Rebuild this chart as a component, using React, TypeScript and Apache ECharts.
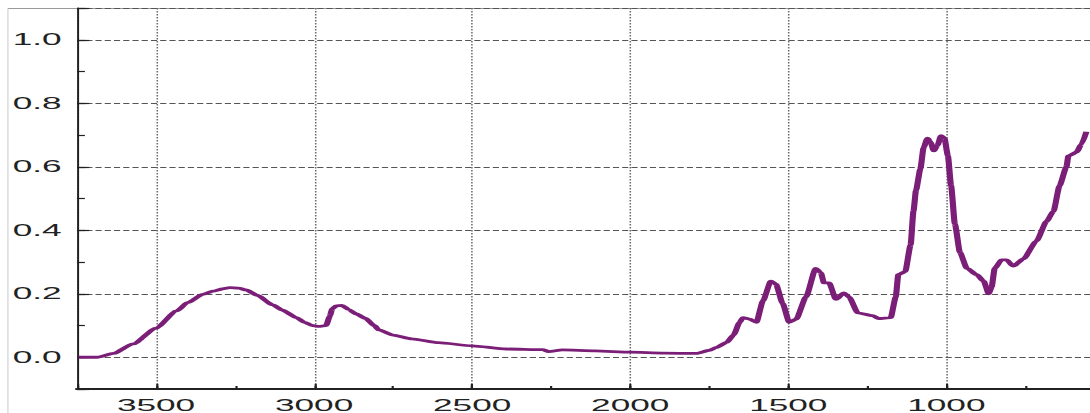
import React, { useEffect, useRef } from "react";
import * as echarts from "echarts";

// IR spectrum: wavenumber (cm-1) and absorbance
const wavenumbers = [
  3745, 3686, 3635, 3572, 3500, 3435, 3400, 3352, 3320, 3290, 3267, 3240, 3215, 3180, 3131,
  3100, 3056, 3030, 3006, 2985, 2962, 2950, 2943, 2930, 2912, 2890, 2868, 2837, 2810, 2795,
  2750, 2691, 2607, 2500, 2393, 2277, 2258, 2215, 2110, 2000,
  1894, 1790, 1749, 1727, 1695, 1673, 1654, 1643, 1622, 1601, 1580, 1555, 1539, 1518,
  1497, 1475, 1444, 1413, 1397, 1387, 1371, 1349, 1324, 1308, 1280, 1233, 1214, 1176,
  1160, 1152, 1130, 1113, 1104, 1096, 1082, 1072, 1060, 1050, 1040, 1028, 1017, 1006,
  995, 985, 973, 957, 935, 904, 882, 866, 857, 847, 825, 810, 788, 756, 715, 683, 661,
  642, 620, 614, 588, 573, 557,
];
const absorbance = [
  0.0, 0.0, 0.012, 0.042, 0.092, 0.146, 0.172, 0.198, 0.208, 0.215, 0.219, 0.218, 0.212, 0.195, 0.165,
  0.148, 0.125, 0.11, 0.1, 0.097, 0.1, 0.13, 0.152, 0.162, 0.163, 0.15, 0.137, 0.122, 0.1, 0.086,
  0.07, 0.058, 0.046, 0.036, 0.026, 0.024, 0.018, 0.023, 0.02, 0.016,
  0.013, 0.012, 0.022, 0.031, 0.047, 0.07, 0.11, 0.125, 0.12, 0.11, 0.178, 0.24, 0.23, 0.17,
  0.11, 0.12, 0.19, 0.28, 0.266, 0.234, 0.234, 0.182, 0.203, 0.19, 0.14, 0.131, 0.122, 0.125,
  0.19, 0.26, 0.27, 0.354, 0.46, 0.526, 0.594, 0.66, 0.69, 0.678, 0.65, 0.667, 0.698, 0.69,
  0.634, 0.54, 0.42, 0.33, 0.28, 0.26, 0.24, 0.2, 0.22, 0.28, 0.307, 0.307, 0.287, 0.31, 0.366, 0.428, 0.46,
  0.54, 0.6, 0.634, 0.646, 0.67, 0.71,
];
const xTickLabels = [1000, 1500, 2000, 2500, 3000, 3500];
const yTickLabels = [0.0, 0.2, 0.4, 0.6, 0.8, 1.0];

const S = 2.2; // horizontal stretch of the reference picture
const W = 1090;
const H = 413;
const INNER_W = 1110.5; // plot runs past the right edge of the picture

export default function App() {
  const ref = useRef<HTMLDivElement>(null);
  useEffect(() => {
    if (!ref.current) return;
    const chart = echarts.init(ref.current, null, { renderer: "svg" });
    const font = "Liberation Sans, Arial, sans-serif";
    chart.setOption({
      animation: false,
      backgroundColor: "#ffffff",
      grid: { left: 35, right: 0, top: 8, bottom: 21, containLabel: false },
      graphic: [
        { type: "line", shape: { x1: 3.6, y1: 8.5, x2: 520, y2: 8.5 }, style: { stroke: "#9a9a9a", lineWidth: 1.2 }, silent: true },
        { type: "line", shape: { x1: 3.6, y1: 8.5, x2: 3.6, y2: 413 }, style: { stroke: "#cfcfcf", lineWidth: 0.5 }, silent: true },
      ],
      xAxis: [
        {
          type: "value",
          inverse: true,
          min: 500,
          max: 3750,
          interval: 500,
          position: "bottom",
          axisLine: { show: true, onZero: false, lineStyle: { color: "#222", width: 2 } },
          axisTick: { show: true, inside: true, length: 5, lineStyle: { color: "#222", width: 1 } },
          axisLabel: {
            color: "#222",
            fontFamily: font,
            fontSize: 16,
            margin: 8,
            formatter: (v: number) => (xTickLabels.includes(v) ? String(v) : ""),
          },
          splitLine: { show: true, lineStyle: { color: "#6a6a6a", width: 0.7, type: [1.5, 1.5] } },
        },
        {
          type: "value",
          inverse: true,
          min: 500,
          max: 3750,
          interval: 250,
          position: "bottom",
          axisLine: { show: false, onZero: false },
          axisTick: { show: true, inside: true, length: 3, lineStyle: { color: "#222", width: 1 } },
          axisLabel: { show: false },
          splitLine: { show: false },
        },
      ],
      yAxis: [
        {
          type: "value",
          min: -0.1,
          max: 1.1,
          position: "left",
          axisLine: { show: true, onZero: false, lineStyle: { color: "#222", width: 0.9 } },
          axisTick: { show: true, inside: true, length: 5.5, lineStyle: { color: "#222", width: 1.2 } },
          axisLabel: {
            color: "#222",
            fontFamily: font,
            fontSize: 16,
            margin: 7,
            formatter: (v: number) =>
              yTickLabels.some((t) => Math.abs(t - v) < 1e-6) ? v.toFixed(1) : "",
          },
          splitLine: { show: true, lineStyle: { color: "#555", width: 1.2, type: [2.8, 1.4] } },
        },
        {
          type: "value",
          min: -0.1,
          max: 1.1,
          interval: 0.1,
          position: "left",
          axisLine: { show: false, onZero: false },
          axisTick: { show: true, inside: true, length: 3.6, lineStyle: { color: "#222", width: 1.2 } },
          axisLabel: { show: false },
          splitLine: { show: false },
        },
      ],
      series: [
        {
          type: "line",
          xAxisIndex: 0,
          yAxisIndex: 0,
          showSymbol: false,
          symbol: "none",
          smooth: 0.2,
          smoothMonotone: "x",
          lineStyle: { color: "#7b1e78", width: 2.8 },
          data: wavenumbers.map((w, i) => [w, absorbance[i]]),
        },
      ],
    });
    return () => chart.dispose();
  }, []);
  return (
    <div
      style={{
        position: "fixed",
        left: 0,
        top: 0,
        width: W,
        height: H,
        overflow: "hidden",
        background: "#fff",
      }}
    >
      <div
        ref={ref}
        style={{ width: INNER_W / S, height: H, transform: `scaleX(${S})`, transformOrigin: "0 0" }}
      />
    </div>
  );
}
